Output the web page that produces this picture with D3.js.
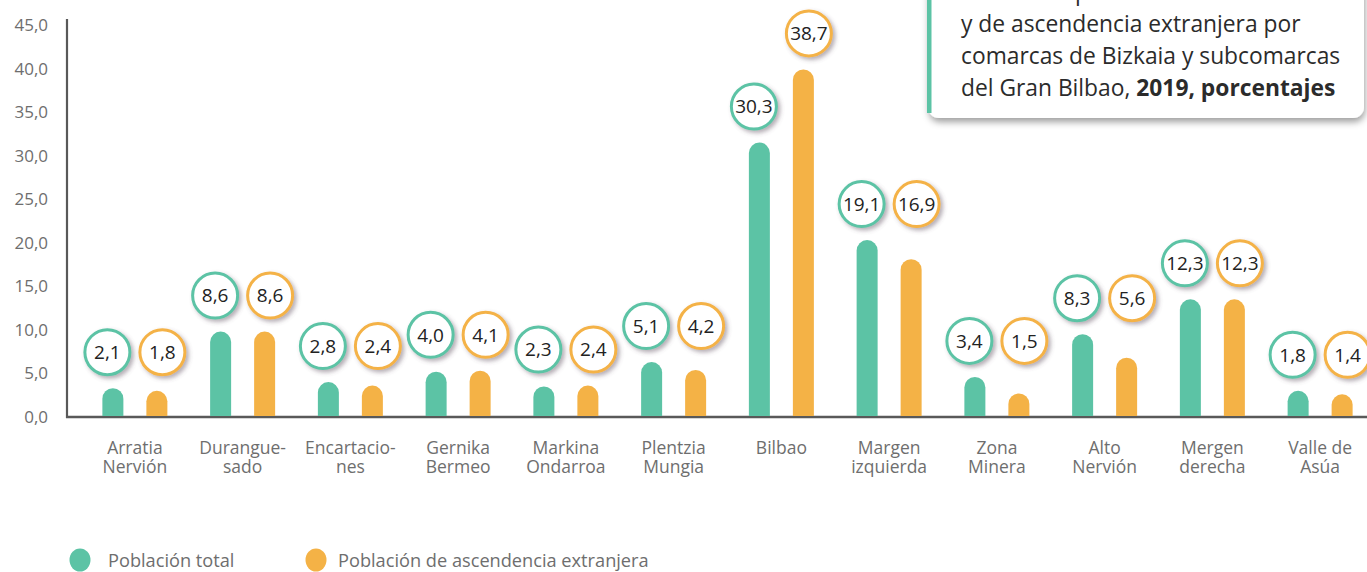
<!DOCTYPE html>
<html>
<head>
<meta charset="utf-8">
<script src="https://cdn.jsdelivr.net/npm/d3@7"></script>
<style>
  body { margin: 0; background: #fff; }
  svg { display: block; font-family: 'Open Sans', sans-serif; }
</style>
</head>
<body>
<div id="chart-div"></div>
<script>
const WIDTH = 1367;
const HEIGHT = 572;

// comarcas (each label broken into its printed lines)
const comarcas = [
  ['Arratia', 'Nervión'],
  ['Durangue-', 'sado'],
  ['Encartacio-', 'nes'],
  ['Gernika', 'Bermeo'],
  ['Markina', 'Ondarroa'],
  ['Plentzia', 'Mungia'],
  ['Bilbao'],
  ['Margen', 'izquierda'],
  ['Zona', 'Minera'],
  ['Alto', 'Nervión'],
  ['Mergen', 'derecha'],
  ['Valle de', 'Asúa']
];
const poblacionTotal      = [2.1, 8.6, 2.8, 4.0, 2.3, 5.1, 30.3, 19.1, 3.4, 8.3, 12.3, 1.8];
const poblacionExtranjera = [1.8, 8.6, 2.4, 4.1, 2.4, 4.2, 38.7, 16.9, 1.5, 5.6, 12.3, 1.4];
const seriesNames = ['Población total', 'Población de ascendencia extranjera'];
const yTicks = [0, 5, 10, 15, 20, 25, 30, 35, 40, 45];
const titleLines = [
  ['Peso de la población total'],
  ['y de ascendencia extranjera por'],
  ['comarcas de Bizkaia y subcomarcas'],
  ['del Gran Bilbao, ', '2019, porcentajes']
];

const GREEN = '#5cc3a5';
const ORANGE = '#f4b246';
const AXIS = '#595959';
const TEXT_GREY = '#6e6e6e';

const MARGIN = { left: 67, top: 19, bottom: 155 };
const BAR_W = 21;
const BAR_OFF = 22;
const BUBBLE_OFF = 27.5;
const BUBBLE_R = 22.5;

const fmt = d3.formatLocale({ decimal: ',', thousands: '.', grouping: [3], currency: ['', '€'] }).format('.1f');

const svg = d3.select('#chart-div')
  .append('svg')
  .attr('width', WIDTH)
  .attr('height', HEIGHT);

const defs = svg.append('defs');
defs.append('filter')
  .attr('id', 'bubble-shadow')
  .attr('x', '-30%').attr('y', '-30%').attr('width', '170%').attr('height', '170%')
  .append('feDropShadow')
    .attr('dx', 2.5).attr('dy', 2.5).attr('stdDeviation', 2)
    .attr('flood-color', '#5a4a5a').attr('flood-opacity', 0.45);
defs.append('filter')
  .attr('id', 'box-shadow')
  .attr('x', '-10%').attr('y', '-30%').attr('width', '120%').attr('height', '160%')
  .append('feDropShadow')
    .attr('dx', 1).attr('dy', 4).attr('stdDeviation', 3.5)
    .attr('flood-color', '#000').attr('flood-opacity', 0.38);

const idx = d3.range(comarcas.length);

const x = d3.scaleBand()
  .domain(idx)
  .range([81, 1374]);

const y = d3.scaleLinear()
  .domain([0, 45])
  .range([417, 25]);

// y axis labels
svg.append('g')
  .attr('transform', `translate(${MARGIN.left}, 0)`)
  .call(d3.axisLeft(y).tickValues(yTicks).tickSize(0).tickPadding(19).tickFormat(fmt))
  .call(g => g.select('.domain').remove())
  .call(g => g.selectAll('text')
    .attr('fill', TEXT_GREY)
    .attr('font-size', 17)
    .attr('font-family', "'Open Sans', sans-serif"));

// axis lines
svg.append('line')
  .attr('x1', MARGIN.left).attr('x2', MARGIN.left)
  .attr('y1', MARGIN.top).attr('y2', y(0) + 1)
  .attr('stroke', AXIS).attr('stroke-width', 2.2);
svg.append('line')
  .attr('x1', MARGIN.left - 1).attr('x2', WIDTH)
  .attr('y1', y(0)).attr('y2', y(0))
  .attr('stroke', AXIS).attr('stroke-width', 2.6);

// bars with rounded tops
const barPath = (cx, v) => {
  const r = BAR_W / 2;
  const top = y(v);
  return `M${cx - r},${y(0) - 1} L${cx - r},${top} A${r},${r} 0 0 1 ${cx + r},${top} L${cx + r},${y(0) - 1} Z`;
};

const series = [
  { values: poblacionTotal, color: GREEN, sign: -1 },
  { values: poblacionExtranjera, color: ORANGE, sign: 1 }
];

const barsG = svg.append('g').attr('class', 'bars');
series.forEach(s => {
  barsG.append('g')
    .selectAll('path')
    .data(idx)
    .join('path')
    .attr('d', i => barPath(x(i) + x.bandwidth() / 2 + s.sign * BAR_OFF, s.values[i]))
    .attr('fill', s.color);
});

// value bubbles: a pair shares the height of the larger bar unless they differ a lot
const bubbleY = (i, v) => {
  const a = poblacionTotal[i], b = poblacionExtranjera[i];
  const ref = Math.abs(a - b) > 5 ? v : Math.max(a, b);
  return y(ref) - BAR_W / 2 - 36;
};

const bubblesG = svg.append('g').attr('class', 'bubbles');
series.forEach(s => {
  const b = bubblesG.append('g')
    .selectAll('g')
    .data(idx)
    .join('g')
    .attr('transform', i => `translate(${x(i) + x.bandwidth() / 2 + s.sign * BUBBLE_OFF}, ${bubbleY(i, s.values[i])})`);
  b.append('circle')
    .attr('r', BUBBLE_R)
    .attr('fill', '#fff')
    .attr('stroke', s.color)
    .attr('stroke-width', 3)
    .attr('filter', 'url(#bubble-shadow)');
  b.append('text')
    .attr('text-anchor', 'middle')
    .attr('dy', '0.36em')
    .attr('font-size', 19)
    .attr('fill', '#222')
    .text(i => fmt(s.values[i]));
});

// category labels, one text per printed line
svg.append('g')
  .selectAll('g')
  .data(idx)
  .join('g')
  .attr('transform', i => `translate(${x(i) + x.bandwidth() / 2}, 454)`)
  .selectAll('text')
  .data(i => comarcas[i])
  .join('text')
    .attr('text-anchor', 'middle')
    .attr('font-size', 17.5)
    .attr('fill', TEXT_GREY)
    .attr('y', (d, j) => j * 19)
    .text(d => d);

// legend
const legend = svg.append('g')
  .selectAll('g')
  .data(seriesNames)
  .join('g')
  .attr('transform', (d, i) => `translate(${[80, 316][i]}, 560)`);
legend.append('ellipse')
  .attr('rx', 10.5).attr('ry', 11.5)
  .attr('fill', (d, i) => [GREEN, ORANGE][i]);
legend.append('text')
  .attr('x', (d, i) => [28, 22][i])
  .attr('dy', '0.38em')
  .attr('font-size', 18.2)
  .attr('fill', TEXT_GREY)
  .text(d => d);

// title box (cut at the top edge)
const box = svg.append('g');
box.append('rect')
  .attr('x', 928).attr('y', -20)
  .attr('width', 436).attr('height', 138)
  .attr('rx', 11)
  .attr('fill', '#fff')
  .attr('filter', 'url(#box-shadow)');
box.append('rect')
  .attr('x', 927).attr('y', -20)
  .attr('width', 4.5).attr('height', 133)
  .attr('fill', GREEN);
box.append('g')
  .selectAll('text')
  .data(titleLines)
  .join('text')
  .attr('x', 961)
  .attr('y', (d, i) => -0.5 + i * 32)
  .attr('font-size', 22.8)
  .attr('fill', '#2b2b2b')
  .selectAll('tspan')
  .data(d => d)
  .join('tspan')
    .attr('font-weight', (d, j) => j === 1 ? 700 : 400)
    .text(d => d);
</script>
</body>
</html>
